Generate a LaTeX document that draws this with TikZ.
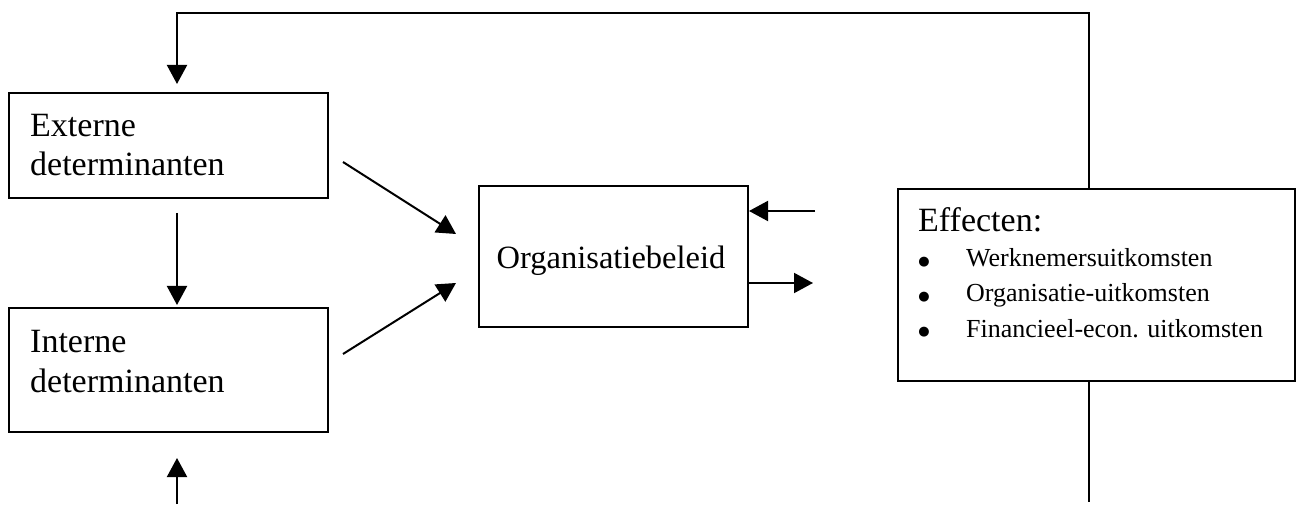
\documentclass[tikz,border=0pt]{standalone}
\usepackage{fontspec}
\setmainfont{Liberation Serif}
\newfontfamily\symfont{DejaVu Sans}
\usetikzlibrary{arrows.meta}
\begin{document}
\begin{tikzpicture}[x=1pt,y=1pt,
  box/.style={draw,line width=2pt,inner sep=0pt,anchor=south west},
  conn/.style={line width=2pt},
  arr/.style={conn,-{Triangle[length=19pt,width=20pt]}},
  big/.style={font=\fontsize{34}{39}\selectfont,inner sep=0pt},
  small/.style={font=\fontsize{26}{30}\selectfont,inner sep=0pt},
  bul/.style={font=\symfont\fontsize{13}{13}\selectfont,inner sep=0pt,anchor=center}]
\useasboundingbox (0,0) rectangle (1296,504);
% boxes
\node[box,minimum width=319pt,minimum height=105pt] (ext) at (8,305) {};
\node[box,minimum width=319pt,minimum height=124pt] (int) at (8,71) {};
\node[box,minimum width=269pt,minimum height=141pt] (org) at (478,176) {};
\node[box,minimum width=397pt,minimum height=192pt] (eff) at (897,122) {};
% texts
\node[big,anchor=base west] (t1) at (30,367) {Externe};
\node[big,anchor=base west] (t2) at (30,328) {determinanten};
\node[big,anchor=base west] (t3) at (30,152) {Interne};
\node[big,anchor=base west] (t4) at (30,112) {determinanten};
\node[big,font=\fontsize{32.5}{39}\selectfont,anchor=base] (t5) at (611,235) {Organisatiebeleid};
\node[big,anchor=base west] (t6) at (918,272) {Effecten:};
\node[bul] (b1) at (924,242) {●};
\node[bul] (b2) at (924,207) {●};
\node[bul] (b3) at (924,172) {●};
\node[small,anchor=base west] (i1) at (966,237) {Werknemersuitkomsten};
\node[small,anchor=base west] (i2) at (966,202) {Organisatie-uitkomsten};
\node[small,anchor=base west] (i3) at (966,167) {Financieel-econ. uitkomsten};
% connector end points
\coordinate (fbA) at (eff.north -| 1089,0);
\coordinate (fbB) at (1089,491);
\coordinate (fbC) at (177,491);
\coordinate (fbD) at (177,420);
\coordinate (botA) at (eff.south -| 1089,0);
\coordinate (botB) at (1089,2);
\coordinate (upA) at (177,0);
\coordinate (upB) at (177,46);
\coordinate (eiA) at (177,291);
\coordinate (eiB) at (177,199);
\coordinate (d1A) at (343,342);
\coordinate (d1B) at (456,270);
\coordinate (d2A) at (343,150);
\coordinate (d2B) at (456,221);
\coordinate (fbo) at (815,293);
\coordinate (ofe) at (813,221);
% connectors
\draw[arr] (fbA) -- (fbB) -- (fbC) -- (fbD);
\draw[conn] (botA) -- (botB);
\draw[arr] (upA) -- (upB);
\draw[arr] (eiA) -- (eiB);
\draw[arr] (d1A) -- (d1B);
\draw[arr] (d2A) -- (d2B);
\draw[arr] (fbo) -- (org.east |- fbo);
\draw[arr] (org.east |- ofe) -- (ofe);
\end{tikzpicture}
\end{document}
